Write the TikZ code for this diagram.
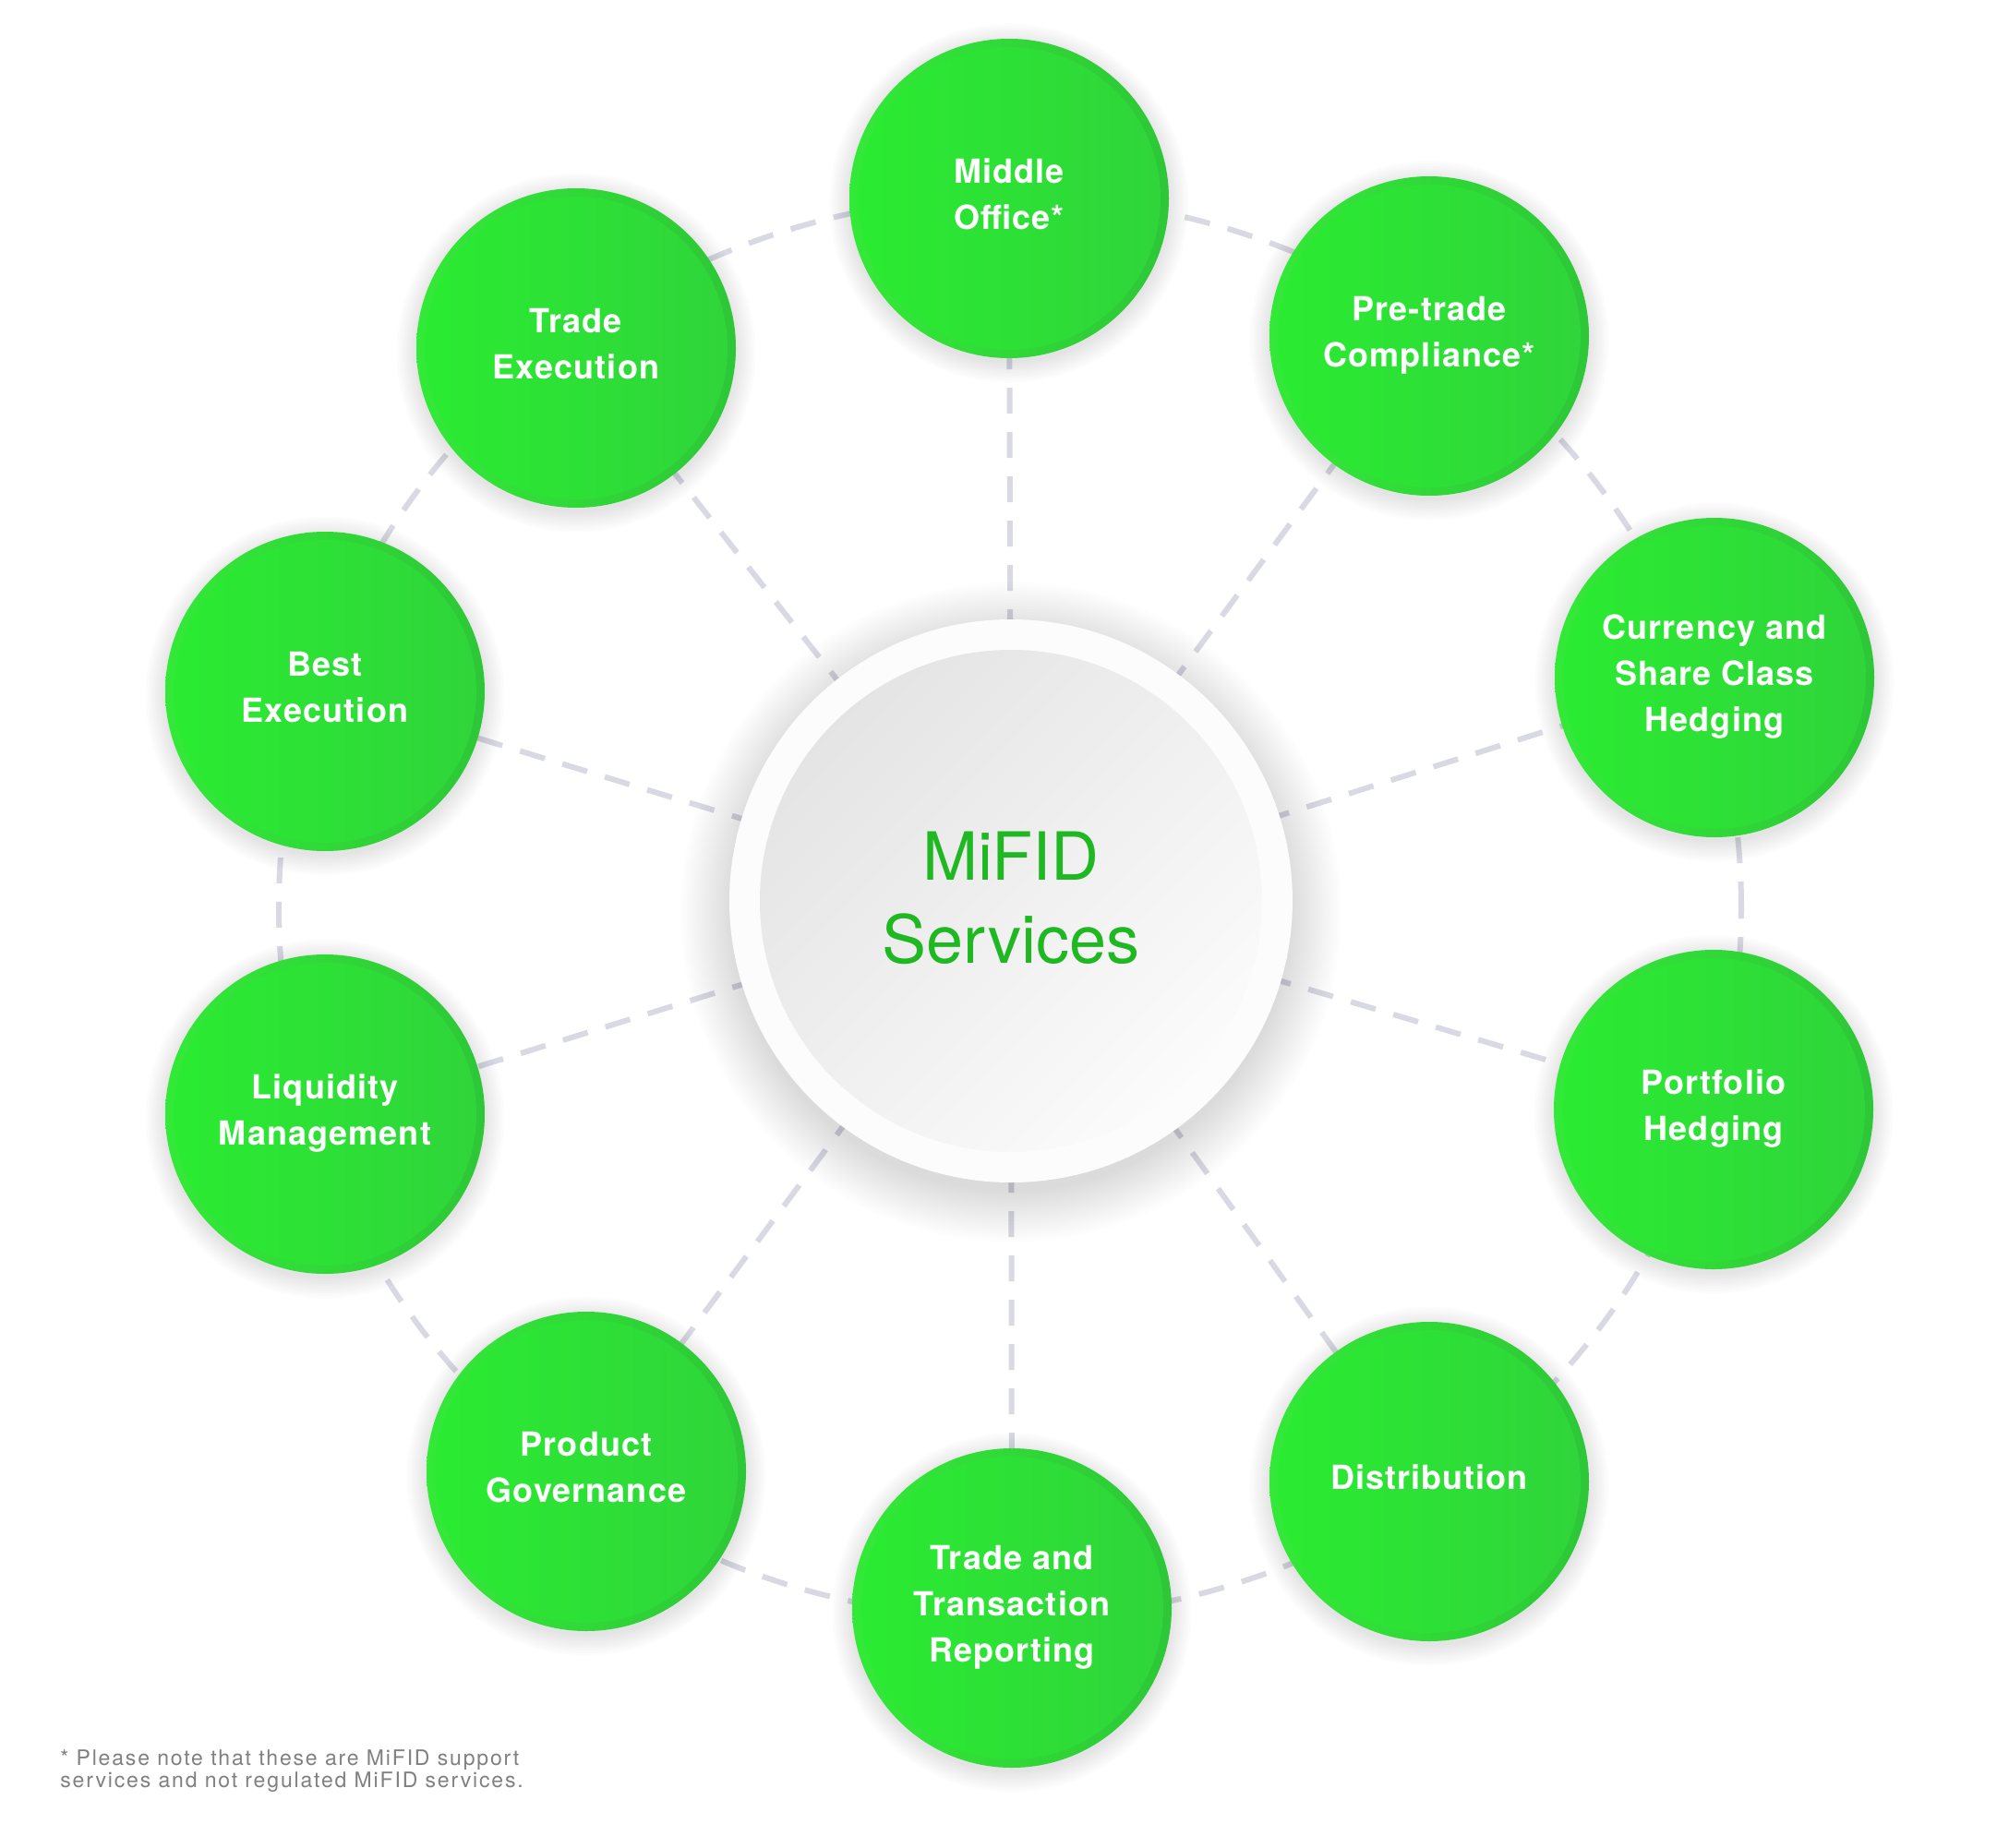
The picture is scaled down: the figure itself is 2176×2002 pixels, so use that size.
\documentclass[tikz,border=0pt]{standalone}
\usepackage{fontspec}
\setmainfont{TeX Gyre Heros}
\newfontfamily\nodefont[LetterSpace=3.0]{TeX Gyre Heros}
\newfontfamily\notefont[LetterSpace=8.0]{TeX Gyre Heros}
\definecolor{gleft}{HTML}{33EA38}
\definecolor{gright}{HTML}{2DC737}
\definecolor{gileft}{HTML}{2AEC31}
\definecolor{giright}{HTML}{30D43B}
\definecolor{dashc}{HTML}{D8D9E3}
\definecolor{titlegreen}{HTML}{1FB823}
\definecolor{notegray}{HTML}{808080}
\pgfdeclarelayer{backfill}
\pgfdeclarelayer{bg}
\pgfdeclarelayer{shadowlayer}
\pgfsetlayers{backfill,bg,shadowlayer,main}
\begin{document}
\begin{tikzpicture}[x=0.5pt,y=-0.5pt,
  svc/.style={circle, minimum size=173pt, inner sep=0pt, left color=gleft, right color=gright,
    text=white, font=\nodefont\bfseries\fontsize{18}{25}\selectfont, align=center,
    execute at end node={\rule[-5pt]{0pt}{0pt}},
    path picture={\shade[left color=gileft, right color=giright] (path picture bounding box.center) circle[radius=82pt];}},
  hub/.style={circle, minimum size=305pt, inner sep=0pt, fill=white!99!black,
    path picture={\shade[top color=white!89!black, bottom color=white!99!black, shading angle=45] (path picture bounding box.center) circle[radius=136pt];}},
  titletext/.style={inner sep=0pt, text=titlegreen, align=center, font=\fontsize{36}{45}\selectfont},
  notetext/.style={inner sep=0pt, text=notegray, font=\notefont\fontsize{11.5}{12}\selectfont},
  dashline/.style={draw=dashc, line width=3pt, dash pattern=on 14pt off 10pt},
]
\begin{pgfonlayer}{backfill}
\fill[white] (0,0) rectangle (2176,2002);
\end{pgfonlayer}
\useasboundingbox (0,0) rectangle (2176,2002);

% hub
\node[hub] (ctr) at (1095,976) {};
\node[titletext] (ttl) at (1095,973) {MiFID\\Services};
\coordinate (ringc) at (1094,983);

% services
\node[svc] (M) at (1093,215) {Middle\\Office*};
\node[svc] (P) at (1548,364) {Pre-trade\\Compliance*};
\node[svc] (C) at (1857,734) {Currency and\\Share Class\\Hedging};
\node[svc] (H) at (1856,1202) {Portfolio\\Hedging};
\node[svc] (D) at (1548,1605) {Distribution};
\node[svc] (R) at (1096,1742) {Trade and\\Transaction\\Reporting};
\node[svc] (G) at (635,1594) {Product\\Governance};
\node[svc] (L) at (352,1207) {Liquidity\\Management};
\node[svc] (B) at (352,749) {Best\\Execution};
\node[svc] (T) at (624,377) {Trade\\Execution};

% footnote
\node[notetext, anchor=base west] (n1) at (65,1912) {* Please note that these are MiFID support};
\node[notetext, anchor=base west] (n2) at (65,1936) {services and not regulated MiFID services.};

% shadows
\begin{pgfonlayer}{shadowlayer}
  \foreach \k in {1,...,18}{
    \fill[black, opacity=0.009] ([yshift=-6pt]ctr.center) circle[radius={150pt+\k*1.6pt}];
  }
  \foreach \n in {M,P,C,H,D,R,G,L,B,T}{
    \foreach \k in {1,...,9}{
      \fill[black, opacity=0.013] ([yshift=-2.5pt]\n.center) circle[radius={85.5pt+\k*1.3pt}];
    }
  }
\end{pgfonlayer}

% connectors
\begin{pgfonlayer}{bg}
  \foreach \n in {M,P,C,H,D,R,G,L,B,T}{
    \draw[dashline] (ctr.center) -- (\n.center);
  }
  \draw[dashline] (ringc) ellipse[x radius=396pt, y radius=385pt];
\end{pgfonlayer}
\end{tikzpicture}
\end{document}
